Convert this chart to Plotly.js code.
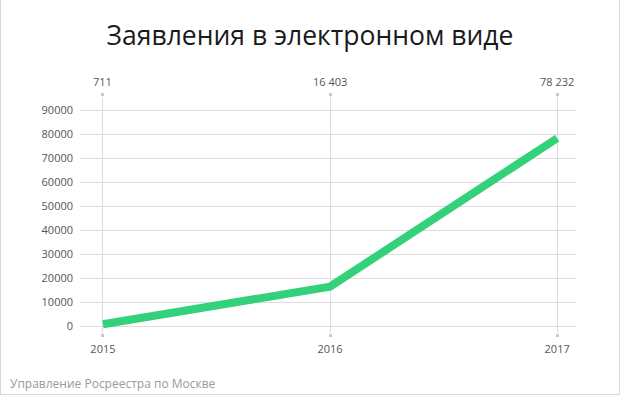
<!DOCTYPE html>
<html>
<head>
<meta charset="utf-8">
<script src="https://cdn.plot.ly/plotly-3.0.1.min.js"></script>
<style>
html,body{margin:0;padding:0;background:#fff;}
#chart{width:618px;height:394px;border-left:1px solid #d6d6d6;border-right:1px solid #d6d6d6;border-bottom:1px solid #d6d6d6;}
</style>
</head>
<body>
<div id="chart"></div>
<script>
const years = [2015, 2016, 2017];
const values = [711, 16403, 78232];
const topLabels = ['711', '16 403', '78 232'];
const yTicks = [0, 10000, 20000, 30000, 40000, 50000, 60000, 70000, 80000, 90000];
const titleText = 'Заявления в электронном виде';
const sourceText = 'Управление Росреестра по Москве';

const font = 'Open Sans, Lato, sans-serif';

const trace = {
  x: years, y: values, type: 'scatter', mode: 'lines',
  line: {color: '#33d17a', width: 8},
  hoverinfo: 'skip'
};

const annotations = years.map((yr, i) => ({
  x: yr, xref: 'x', y: 1, yref: 'paper', yanchor: 'bottom', yshift: 6,
  text: topLabels[i], showarrow: false,
  font: {family: font, size: 11, color: '#555'}
}));
annotations.push({
  x: 0, xref: 'paper', xanchor: 'left', xshift: -72,
  y: 0, yref: 'paper', yanchor: 'middle', yshift: -50,
  text: sourceText, showarrow: false,
  font: {family: font, size: 12, color: '#9a9a9a'}
});

const layout = {
  width: 618, height: 394,
  margin: {l: 79, r: 43, t: 97, b: 61},
  paper_bgcolor: '#fff', plot_bgcolor: '#fff',
  showlegend: false,
  title: {text: titleText, x: 0.5, xanchor: 'center', xref: 'container', y: 0.91, yref: 'container', yanchor: 'middle',
          font: {family: font, size: 26.5, color: '#1a1a1a'}},
  xaxis: {
    range: [2014.899, 2017.083], tickvals: years, ticktext: years.map(String),
    showgrid: true, gridcolor: '#dcdcdc', gridwidth: 1, zeroline: false, showline: false,
    ticks: 'outside', ticklen: 3, tickwidth: 3, tickcolor: '#c8c8c8', mirror: 'ticks',
    ticklabelstandoff: 3,
    tickfont: {family: font, size: 11, color: '#555'}
  },
  yaxis: {
    range: [-2917, 95417], tickvals: yTicks, ticktext: yTicks.map(String),
    showgrid: true, gridcolor: '#dcdcdc', gridwidth: 1, zeroline: false, showline: false,
    ticks: '', ticklabelstandoff: 6,
    tickfont: {family: font, size: 11, color: '#555'}
  },
  annotations: annotations
};

Plotly.newPlot('chart', [trace], layout, {displayModeBar: false, staticPlot: true});
</script>
</body>
</html>
